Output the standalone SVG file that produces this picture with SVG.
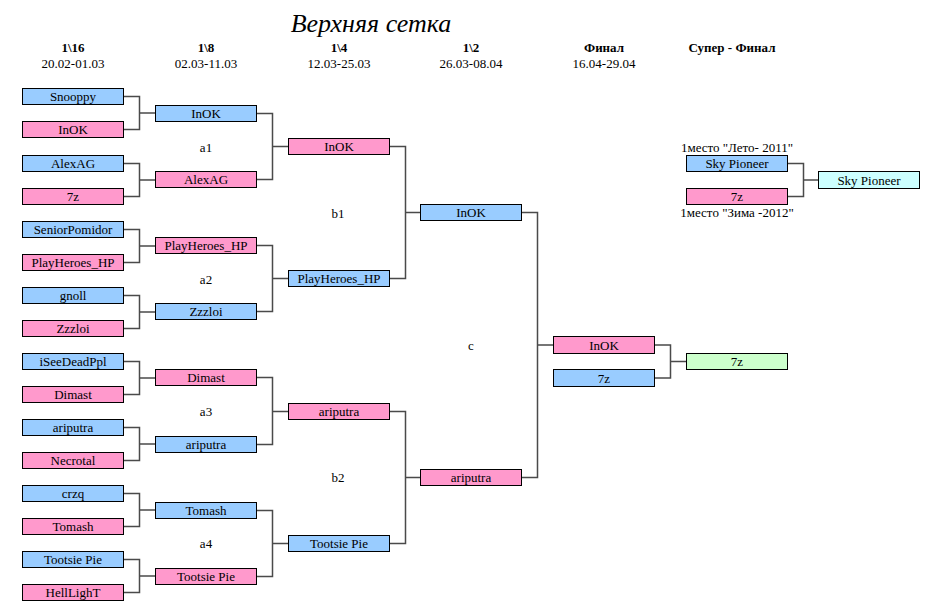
<svg xmlns="http://www.w3.org/2000/svg" width="935" height="611" viewBox="0 0 935 611">
<style>
text{font-family:"Liberation Serif","Times New Roman",serif;font-size:13px;fill:#000;text-anchor:middle}
.t{font-size:26px;font-style:italic}
.h{font-weight:bold}
.n rect{stroke:#000;stroke-width:1}
.b{fill:#99CCFF}.p{fill:#FF99CC}.g{fill:#CCFFCC}.c{fill:#CCFFFF}
#connectors path{fill:none;stroke:#4a4a4a;stroke-width:1.5}
</style>
<rect x="0" y="0" width="935" height="611" fill="#fff"/>
<text class="t" x="371" y="32">Верхняя сетка</text>
<g id="headers">
<text class="h" x="73" y="52">1\16</text><text x="73" y="68">20.02-01.03</text>
<text class="h" x="206" y="52">1\8</text><text x="206" y="68">02.03-11.03</text>
<text class="h" x="339" y="52">1\4</text><text x="339" y="68">12.03-25.03</text>
<text class="h" x="471" y="52">1\2</text><text x="471" y="68">26.03-08.04</text>
<text class="h" x="604" y="52">Финал</text><text x="604" y="68">16.04-29.04</text>
<text class="h" x="732" y="52">Супер - Финал</text>
</g>
<g id="labels">
<text x="206" y="152">a1</text><text x="206" y="284">a2</text><text x="206" y="416">a3</text><text x="206" y="548">a4</text>
<text x="338" y="218">b1</text><text x="338" y="482">b2</text><text x="471" y="350">c</text>
<text x="737" y="151.5">1место "Лето- 2011"</text>
<text x="737" y="217">1место "Зима -2012"</text>
</g>
<g id="connectors">
<path d="M123.5 96.5H139.5V129.5H123.5M139.5 113H155.5"/>
<path d="M123.5 163.5H139.5V196.5H123.5M139.5 180H155.5"/>
<path d="M123.5 229.5H139.5V262.5H123.5M139.5 246H155.5"/>
<path d="M123.5 295.5H139.5V328.5H123.5M139.5 312H155.5"/>
<path d="M123.5 361.5H139.5V394.5H123.5M139.5 378H155.5"/>
<path d="M123.5 427.5H139.5V460.5H123.5M139.5 444H155.5"/>
<path d="M123.5 493.5H139.5V526.5H123.5M139.5 510H155.5"/>
<path d="M123.5 559.5H139.5V592.5H123.5M139.5 576H155.5"/>
<path d="M256.5 113.5H272.5V179.5H256.5M272.5 146.5H288.5"/>
<path d="M256.5 245.5H272.5V311.5H256.5M272.5 278.5H288.5"/>
<path d="M256.5 377.5H272.5V444.5H256.5M272.5 411.5H288.5"/>
<path d="M256.5 510.5H272.5V576.5H256.5M272.5 543.5H288.5"/>
<path d="M389.5 146.5H405.5V278.5H389.5M405.5 212.5H420.5"/>
<path d="M389.5 411.5H405.5V543.5H389.5M405.5 477.5H420.5"/>
<path d="M521.5 212.5H537.5V477.5H521.5M537.5 345H553.5"/>
<path d="M654.5 345H670.5V378H654.5M670.5 361.5H686.5"/>
<path d="M787.5 163.5H803.5V196.5H787.5M803.5 180H818.5"/>
</g>
<g id="n1" class="n"><rect class="b" x="22.5" y="88.5" width="101" height="16"/><text x="73" y="101">Snooppy</text></g>
<g id="n2" class="n"><rect class="p" x="22.5" y="121.5" width="101" height="16"/><text x="73" y="134">InOK</text></g>
<g id="n3" class="n"><rect class="b" x="22.5" y="155.5" width="101" height="16"/><text x="73" y="168">AlexAG</text></g>
<g id="n4" class="n"><rect class="p" x="22.5" y="188.5" width="101" height="16"/><text x="73" y="201">7z</text></g>
<g id="n5" class="n"><rect class="b" x="22.5" y="221.5" width="101" height="16"/><text x="73" y="234">SeniorPomidor</text></g>
<g id="n6" class="n"><rect class="p" x="22.5" y="254.5" width="101" height="16"/><text x="73" y="267">PlayHeroes_HP</text></g>
<g id="n7" class="n"><rect class="b" x="22.5" y="287.5" width="101" height="16"/><text x="73" y="300">gnoll</text></g>
<g id="n8" class="n"><rect class="p" x="22.5" y="320.5" width="101" height="16"/><text x="73" y="333">Zzzloi</text></g>
<g id="n9" class="n"><rect class="b" x="22.5" y="353.5" width="101" height="16"/><text x="73" y="366">iSeeDeadPpl</text></g>
<g id="n10" class="n"><rect class="p" x="22.5" y="386.5" width="101" height="16"/><text x="73" y="399">Dimast</text></g>
<g id="n11" class="n"><rect class="b" x="22.5" y="419.5" width="101" height="16"/><text x="73" y="432">ariputra</text></g>
<g id="n12" class="n"><rect class="p" x="22.5" y="452.5" width="101" height="16"/><text x="73" y="465">Necrotal</text></g>
<g id="n13" class="n"><rect class="b" x="22.5" y="485.5" width="101" height="16"/><text x="73" y="498">crzq</text></g>
<g id="n14" class="n"><rect class="p" x="22.5" y="518.5" width="101" height="16"/><text x="73" y="531">Tomash</text></g>
<g id="n15" class="n"><rect class="b" x="22.5" y="551.5" width="101" height="16"/><text x="73" y="564">Tootsie Pie</text></g>
<g id="n16" class="n"><rect class="p" x="22.5" y="584.5" width="101" height="16"/><text x="73" y="597">HellLighT</text></g>
<g id="r2_1" class="n"><rect class="b" x="155.5" y="105.5" width="101" height="16"/><text x="206" y="118">InOK</text></g>
<g id="r2_2" class="n"><rect class="p" x="155.5" y="171.5" width="101" height="16"/><text x="206" y="184">AlexAG</text></g>
<g id="r2_3" class="n"><rect class="p" x="155.5" y="237.5" width="101" height="16"/><text x="206" y="250">PlayHeroes_HP</text></g>
<g id="r2_4" class="n"><rect class="b" x="155.5" y="303.5" width="101" height="16"/><text x="206" y="316">Zzzloi</text></g>
<g id="r2_5" class="n"><rect class="p" x="155.5" y="369.5" width="101" height="16"/><text x="206" y="382">Dimast</text></g>
<g id="r2_6" class="n"><rect class="b" x="155.5" y="436.5" width="101" height="16"/><text x="206" y="449">ariputra</text></g>
<g id="r2_7" class="n"><rect class="b" x="155.5" y="502.5" width="101" height="16"/><text x="206" y="515">Tomash</text></g>
<g id="r2_8" class="n"><rect class="p" x="155.5" y="568.5" width="101" height="16"/><text x="206" y="581">Tootsie Pie</text></g>
<g id="r3_1" class="n"><rect class="p" x="288.5" y="138.5" width="101" height="16"/><text x="339" y="151">InOK</text></g>
<g id="r3_2" class="n"><rect class="b" x="288.5" y="270.5" width="101" height="16"/><text x="339" y="283">PlayHeroes_HP</text></g>
<g id="r3_3" class="n"><rect class="p" x="288.5" y="403.5" width="101" height="16"/><text x="339" y="416">ariputra</text></g>
<g id="r3_4" class="n"><rect class="b" x="288.5" y="535.5" width="101" height="16"/><text x="339" y="548">Tootsie Pie</text></g>
<g id="r4_1" class="n"><rect class="b" x="420.5" y="204.5" width="101" height="16"/><text x="471" y="217">InOK</text></g>
<g id="r4_2" class="n"><rect class="p" x="420.5" y="469.5" width="101" height="16"/><text x="471" y="482">ariputra</text></g>
<g id="f1" class="n"><rect class="p" x="553.5" y="336.5" width="101" height="17"/><text x="604" y="349.5">InOK</text></g>
<g id="f2" class="n"><rect class="b" x="553.5" y="369.5" width="101" height="17"/><text x="604" y="382.5">7z</text></g>
<g id="fw" class="n"><rect class="g" x="686.5" y="353.5" width="101" height="16"/><text x="737" y="366">7z</text></g>
<g id="s1" class="n"><rect class="b" x="686.5" y="155.5" width="101" height="16"/><text x="737" y="168">Sky Pioneer</text></g>
<g id="s2" class="n"><rect class="p" x="686.5" y="188.5" width="101" height="16"/><text x="737" y="201">7z</text></g>
<g id="sw" class="n"><rect class="c" x="818.5" y="171.5" width="101" height="17"/><text x="869" y="184.5">Sky Pioneer</text></g>
</svg>
